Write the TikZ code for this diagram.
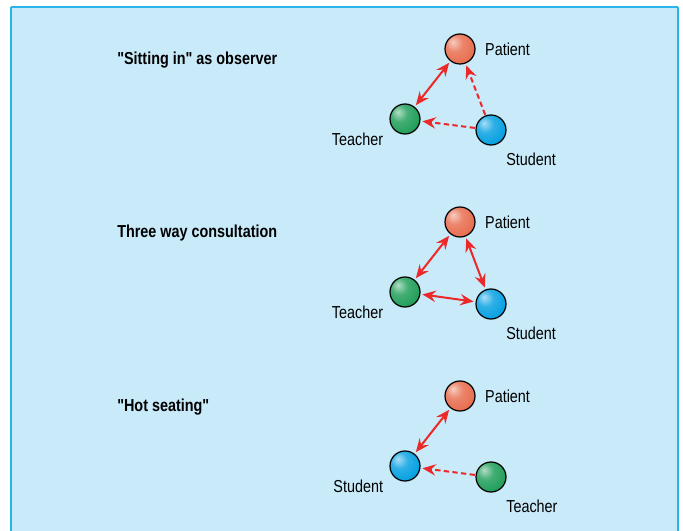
\documentclass[tikz,border=0pt]{standalone}
\usepackage{fontspec}
\setmainfont{Liberation Sans}[FakeStretch=0.83, Ligatures=TeXOff]
\usepackage{tikz}
\usetikzlibrary{arrows.meta,positioning}
\definecolor{panelblue}{RGB}{200,234,249}
\definecolor{frameblue}{RGB}{41,181,232}
\definecolor{linkred}{RGB}{236,40,40}
\definecolor{patientred}{RGB}{232,112,82}
\definecolor{teachergreen}{RGB}{36,160,92}
\definecolor{studentblue}{RGB}{10,162,226}
\colorlet{spherecol}{gray}
% softer sphere shading than the built-in ball
\pgfdeclareradialshading[spherecol]{softball}{\pgfqpoint{-12bp}{12bp}}{%
  color(0bp)=(spherecol!35!white); color(14bp)=(spherecol!85!white);
  color(30bp)=(spherecol); color(50bp)=(spherecol!75!black);
  color(70bp)=(spherecol!60!black)}

\tikzset{
  sphere color/.code={\colorlet{spherecol}{#1}},
  sphere/.style={circle, draw=black, line width=0.9pt, minimum size=22.5pt, inner sep=0pt, shading=softball},
  lbl/.style={inner sep=0pt, font=\fontsize{13}{15}\selectfont},
  heading/.style={inner sep=0pt, anchor=west, font=\fontsize{13}{15}\selectfont\bfseries},
  both/.style={{Stealth[length=10pt,width=8.5pt,inset=3.5pt]}-{Stealth[length=10pt,width=8.5pt,inset=3.5pt]}, linkred, line width=1.5pt, shorten <=1.5pt, shorten >=1.5pt},
  oneway/.style={-{Stealth[length=10pt,width=8.5pt,inset=3.5pt]}, linkred, line width=1.5pt, dash pattern=on 4pt off 2.5pt, shorten >=1.5pt, shorten <=0.5pt},
}

\begin{document}
\begin{tikzpicture}[x=0.75pt, y=-0.75pt]
  \useasboundingbox (0,0) rectangle (683,531);
  % panel
  \fill[panelblue] (11,7) rectangle (678,545);
  \draw[frameblue, line width=1.5pt] (11,7) -- (678,7) (11,7) -- (11,545) (678,7) -- (678,545);

  % sitting in
  \node[heading] (h1) at (117,60) {"Sitting in" as observer};
  \node[sphere, sphere color=patientred] (p1) at (460,49) {};
  \node[sphere, sphere color=teachergreen] (t1) at (405,119) {};
  \node[sphere, sphere color=studentblue] (s1) at (491,130) {};
  \node[lbl, right=7pt of p1] (p1l) {Patient};
  \node[lbl, below left=1.8pt and 8pt of t1] (t1l) {Teacher};
  \node[lbl, below right=9pt and 3pt of s1] (s1l) {Student};
  \draw[both] (p1) -- (t1);
  \draw[oneway] (s1) -- (p1);
  \draw[oneway] (s1) -- (t1);

  % three way
  \node[heading] (h2) at (117,233) {Three way consultation};
  \node[sphere, sphere color=patientred] (p2) at (460,222) {};
  \node[sphere, sphere color=teachergreen] (t2) at (405,292) {};
  \node[sphere, sphere color=studentblue] (s2) at (491,304) {};
  \node[lbl, right=7pt of p2] (p2l) {Patient};
  \node[lbl, below left=1.8pt and 8pt of t2] (t2l) {Teacher};
  \node[lbl, below right=9pt and 3pt of s2] (s2l) {Student};
  \draw[both] (p2) -- (t2);
  \draw[both] (p2) -- (s2);
  \draw[both] (t2) -- (s2);

  % hot seating
  \node[heading] (h3) at (117,407) {"Hot seating"};
  \node[sphere, sphere color=patientred] (p3) at (460,396) {};
  \node[sphere, sphere color=studentblue] (s3) at (405,466) {};
  \node[sphere, sphere color=teachergreen] (t3) at (491,477) {};
  \node[lbl, right=7pt of p3] (p3l) {Patient};
  \node[lbl, below left=1.8pt and 8pt of s3] (s3l) {Student};
  \node[lbl, below right=9pt and 3pt of t3] (t3l) {Teacher};
  \draw[both] (p3) -- (s3);
  \draw[oneway] (t3) -- (s3);
\end{tikzpicture}
\end{document}
